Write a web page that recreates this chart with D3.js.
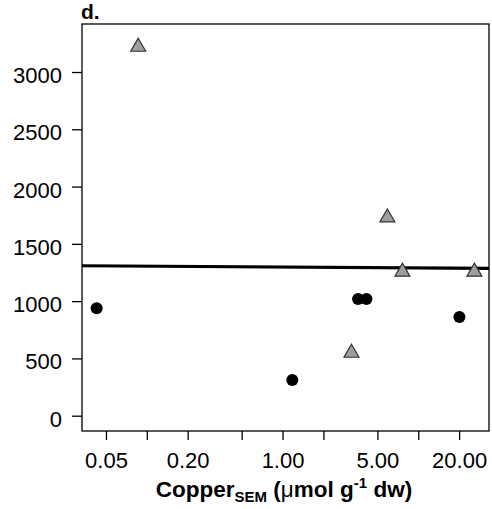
<!DOCTYPE html>
<html>
<head>
<meta charset="utf-8">
<script src="https://cdn.jsdelivr.net/npm/d3@7"></script>
<style>
  html, body { margin: 0; padding: 0; background: #fff; }
  svg { display: block; font-family: "Liberation Sans", Arial, sans-serif; }
</style>
</head>
<body>
<svg id="chart" width="492" height="509"></svg>
<script>
// ---- data ----
const circleX = [0.0427, 1.18, 3.6, 4.15, 20.1];
const circleY = [937, 312, 1019, 1019, 861];
const triangleX = [0.0864, 3.22, 5.92, 7.64, 25.9];
const triangleY = [3219, 548, 1729, 1256, 1256];
const fitX = [0.0333, 33.2];
const fitY = [1309, 1286];
const xTickValues = [0.05, 0.1, 0.2, 0.5, 1, 2, 5, 10, 20];
const xTickLabels = ["0.05", "", "0.20", "", "1.00", "", "5.00", "", "20.00"];
const yTickValues = [0, 500, 1000, 1500, 2000, 2500, 3000];
const panelLabel = "d.";

// ---- layout ----
const svg = d3.select("#chart");
const L = 82, R = 489, T = 24, B = 431;

const x = d3.scaleLog().domain([0.0333, 33.2]).range([L, R]);
const y = d3.scaleLinear().domain([-133.5, 3419]).range([B, T]);

// box
svg.append("rect")
  .attr("x", L).attr("y", T).attr("width", R - L).attr("height", B - T)
  .attr("fill", "none").attr("stroke", "#000").attr("stroke-width", 1.3);

// x axis
const xAxis = d3.axisBottom(x)
  .tickValues(xTickValues)
  .tickFormat((d, i) => xTickLabels[i])
  .tickSizeOuter(0).tickSize(9).tickPadding(12);
const gx = svg.append("g").attr("transform", `translate(0,${B})`).call(xAxis);
gx.select(".domain").remove();
gx.selectAll("line").attr("stroke", "#000").attr("stroke-width", 1.3);
gx.selectAll("text").attr("font-size", 22).attr("fill", "#000")
  .attr("font-family", "Liberation Sans, Arial, sans-serif");

// y axis
const yAxis = d3.axisLeft(y)
  .tickValues(yTickValues)
  .tickFormat(d3.format("d"))
  .tickSizeOuter(0).tickSize(10).tickPadding(10);
const gy = svg.append("g").attr("transform", `translate(${L},0)`).call(yAxis);
gy.select(".domain").remove();
gy.selectAll("line").attr("stroke", "#000").attr("stroke-width", 1.3);
gy.selectAll("text").attr("font-size", 22).attr("fill", "#000").attr("dy", "0.48em")
  .attr("font-family", "Liberation Sans, Arial, sans-serif");

// regression line
const fit = fitX.map((v, i) => [v, fitY[i]]);
svg.append("path")
  .attr("d", d3.line().x(d => x(d[0])).y(d => y(d[1]))(fit))
  .attr("fill", "none").attr("stroke", "#000").attr("stroke-width", 3.2);

// circles
const circles = circleX.map((v, i) => [v, circleY[i]]);
svg.append("g").selectAll("path").data(circles).join("path")
  .attr("transform", d => `translate(${x(d[0])},${y(d[1])})`)
  .attr("d", d3.symbol(d3.symbolCircle, Math.PI * 36))
  .attr("fill", "#000");

// triangles
const tris = triangleX.map((v, i) => [v, triangleY[i]]);
svg.append("g").selectAll("path").data(tris).join("path")
  .attr("transform", d => `translate(${x(d[0])},${y(d[1])})`)
  .attr("d", d3.symbol(d3.symbolTriangle, 97))
  .attr("fill", "#9e9e9e").attr("stroke", "#333").attr("stroke-width", 1.2);

// panel label
svg.append("text").attr("x", 81).attr("y", 19)
  .attr("font-size", 21).attr("font-weight", "bold").attr("fill", "#000")
  .text(panelLabel);

// x axis title
const t = svg.append("text").attr("x", 284).attr("y", 497)
  .attr("text-anchor", "middle").attr("font-size", 22.5).attr("font-weight", "bold").attr("fill", "#000");
t.append("tspan").text("Copper");
t.append("tspan").attr("font-size", 15).attr("dy", 5).text("SEM");
t.append("tspan").attr("dy", -5).text(" (");
t.append("tspan").attr("font-weight", "normal").text("\u03bc");
t.append("tspan").text("mol g");
t.append("tspan").attr("font-size", 15).attr("dy", -9).text("-1");
t.append("tspan").attr("dy", 9).text(" dw)");
</script>
</body>
</html>
